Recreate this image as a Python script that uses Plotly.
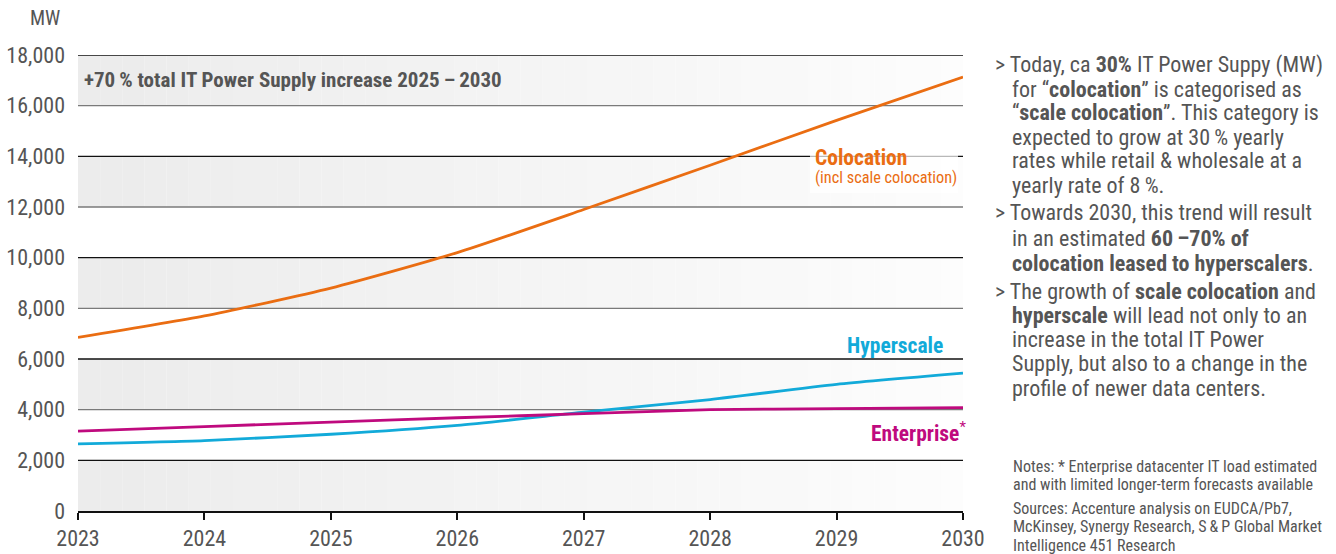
import plotly.graph_objects as go

years = [2023, 2024, 2025, 2026, 2027, 2028, 2029, 2030]
colocation = [6850, 7700, 8800, 10200, 11900, 13650, 15420, 17130]
hyperscale = [2650, 2780, 3030, 3380, 3900, 4400, 5000, 5440]
enterprise = [3150, 3330, 3510, 3680, 3840, 4000, 4040, 4080]
y_ticks = [0, 2000, 4000, 6000, 8000, 10000, 12000, 14000, 16000, 18000]

C_ORANGE = "#ea6d12"
C_BLUE = "#12aad9"
C_MAGENTA = "#bf0a7e"
C_TEXT = "#555555"
FONT = "Roboto Condensed, Liberation Sans Narrow, Roboto, sans-serif"
TS = "\u2009"

W, H = 1336, 554
L, R, T, B = 78, 963, 55, 511


def px(x):
    return (x - L) / (R - L)


def py(y):
    return (B - y) / (B - T)


fig = go.Figure()

fig.add_trace(go.Scatter(x=years, y=colocation, mode="lines", name="Colocation",
                         line=dict(color=C_ORANGE, width=2.8, shape="spline", smoothing=0.6)))
fig.add_trace(go.Scatter(x=years, y=hyperscale, mode="lines", name="Hyperscale",
                         line=dict(color=C_BLUE, width=2.8, shape="spline", smoothing=0.6)))
fig.add_trace(go.Scatter(x=years, y=enterprise, mode="lines", name="Enterprise",
                         line=dict(color=C_MAGENTA, width=2.8, shape="spline", smoothing=0.6)))

shapes = []
n = 40
x0, x1 = years[0], years[-1]
for i in range(len(y_ticks) - 1):
    if i % 2 == 1:
        continue
    ylo, yhi = y_ticks[i], y_ticks[i + 1]
    for k in range(n):
        t = k / (n - 1)
        c = int(236 + (253 - 236) * t)
        xa = x0 + (x1 - x0) * k / n
        xb = x0 + (x1 - x0) * (k + 1) / n
        shapes.append(dict(type="rect", xref="x", yref="y", x0=xa, x1=xb + 0.001, y0=ylo, y1=yhi,
                           fillcolor=f"rgb({c},{c},{c})", line=dict(width=0), layer="below"))
for v in y_ticks:
    if v == 0:
        continue
    col = "#111111" if (v // 2000) % 2 == 1 else "#7a7a7a"
    shapes.append(dict(type="line", xref="x", yref="y", x0=x0, x1=x1, y0=v, y1=v,
                       line=dict(color=col, width=1.3), layer="below"))
shapes.append(dict(type="rect", xref="paper", yref="paper", x0=px(810), x1=px(958), y0=py(193), y1=py(142),
                   fillcolor="rgba(255,255,255,0.7)", line=dict(width=0), layer="above"))

ann = []


def add(text, x, y, size, color=C_TEXT, xanchor="left", yanchor="middle"):
    ann.append(dict(text=text, xref="paper", yref="paper", x=px(x), y=py(y), showarrow=False,
                    xanchor=xanchor, yanchor=yanchor, font=dict(size=size, color=color, family=FONT)))


add("MW", 62, 18, 20, xanchor="right")
add(f"<b>+70{TS}% total IT Power Supply increase 2025{TS}–{TS}2030</b>", 82, 80, 21)
add("<b>Colocation</b>", 909, 157, 21.5, C_ORANGE, xanchor="right")
add("(incl scale colocation)", 959, 177, 16.3, C_ORANGE, xanchor="right")
add("<b>Hyperscale</b>", 945, 345, 21.5, C_BLUE, xanchor="right")
add("<b>Enterprise</b><sup>*</sup>", 968, 432, 21.5, C_MAGENTA, xanchor="right")

right_lines = [
    (993, 65, "> Today, ca <b>30%</b> IT Power Suppy (MW)"),
    (1010, 89, "for “<b>colocation</b>” is categorised as"),
    (1010, 113, "“<b>scale colocation</b>”. This category is"),
    (1010, 137, f"expected to grow at 30{TS}% yearly"),
    (1010, 161, "rates while retail & wholesale at a"),
    (1010, 185, f"yearly rate of 8{TS}%."),
    (993, 213, "> Towards 2030, this trend will result"),
    (1010, 238, f"in an estimated <b>60{TS}–70% of</b>"),
    (1010, 263, "<b>colocation leased to hyperscalers</b>."),
    (993, 291, "> The growth of <b>scale colocation</b> and"),
    (1010, 315, "<b>hyperscale</b> will lead not only to an"),
    (1010, 339, "increase in the total IT Power"),
    (1010, 363, "Supply, but also to a change in the"),
    (1010, 388, "profile of newer data centers."),
]
for x, y, t in right_lines:
    add(t, x, y, 22)

notes = [
    (466, "Notes: * Enterprise datacenter IT load estimated"),
    (484, "and with limited longer-term forecasts available"),
    (508, "Sources: Accenture analysis on EUDCA/Pb7,"),
    (526, f"McKinsey, Synergy Research, S{TS}&{TS}P Global Market"),
    (545, "Intelligence 451 Research"),
]
for y, t in notes:
    add(t, 1011, y, 16)

fig.update_layout(
    width=W, height=H,
    margin=dict(l=L, r=W - R, t=T, b=H - B),
    paper_bgcolor="white", plot_bgcolor="white",
    showlegend=False,
    shapes=shapes,
    annotations=ann,
    font=dict(family=FONT, color=C_TEXT),
    xaxis=dict(range=[2023, 2030], tickmode="array", tickvals=years, ticktext=[str(y) for y in years],
               showgrid=False, zeroline=False, showline=True, linecolor="#111111", linewidth=2,
               ticks="outside", ticklen=7, tickcolor="#111111", tickwidth=1.5, automargin=False,
               tickfont=dict(size=22, color=C_TEXT, family=FONT)),
    yaxis=dict(range=[0, 18000], tickmode="array", tickvals=y_ticks,
               ticktext=[f"{v:,}" for v in y_ticks], showgrid=False, zeroline=False,
               showline=False, ticks="", ticklabelstandoff=12, automargin=False,
               tickfont=dict(size=22, color=C_TEXT, family=FONT)),
)

fig.write_html("out.html", config={"displayModeBar": False},
               post_script="document.body.style.margin='0px';document.body.style.overflow='hidden';")
